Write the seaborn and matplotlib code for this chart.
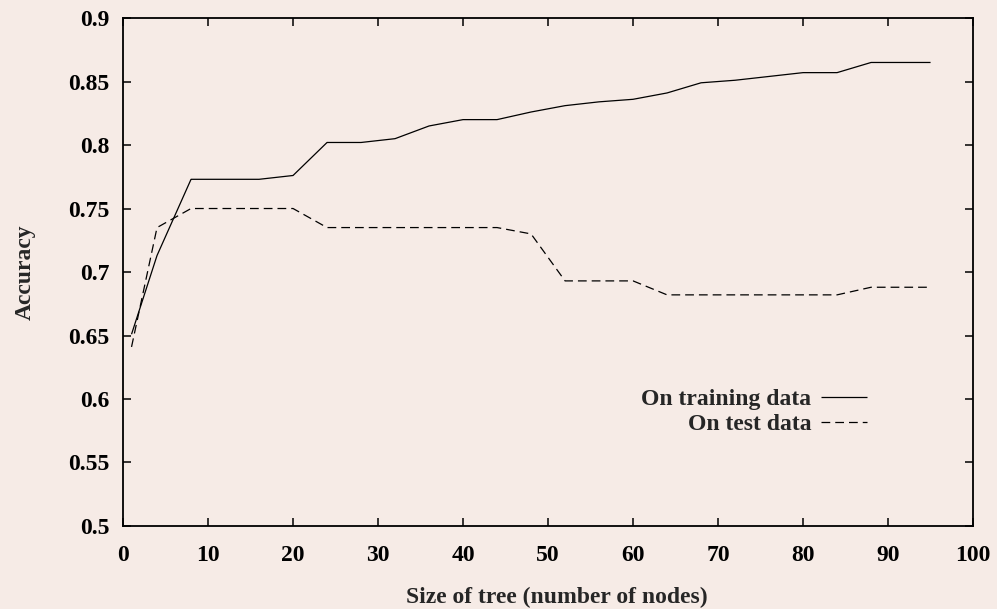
import pandas as pd
import seaborn as sns
import matplotlib.pyplot as plt

# Tamaño del arbol (nodos) y precision
nodos = [1, 4, 8, 12, 16, 20, 24, 28, 32, 36, 40, 44, 48, 52, 56, 60, 64, 68, 72, 76, 80, 84, 88, 92, 95]
acc_train = [0.651, 0.713, 0.773, 0.773, 0.773, 0.776, 0.802, 0.802, 0.805, 0.815, 0.820, 0.820,
             0.826, 0.831, 0.834, 0.836, 0.841, 0.849, 0.851, 0.854, 0.857, 0.857, 0.865, 0.865, 0.865]
acc_test = [0.641, 0.735, 0.750, 0.750, 0.750, 0.750, 0.735, 0.735, 0.735, 0.735, 0.735, 0.735,
            0.730, 0.693, 0.693, 0.693, 0.682, 0.682, 0.682, 0.682, 0.682, 0.682, 0.688, 0.688, 0.688]
etiquetas = ['On training data', 'On test data']

df = pd.DataFrame({
    'nodos': nodos * 2,
    'acc': acc_train + acc_test,
    'serie': [etiquetas[0]] * len(nodos) + [etiquetas[1]] * len(nodos),
})

sns.set_style('ticks')
plt.rcParams['font.family'] = ['Liberation Serif', 'DejaVu Serif']
plt.rcParams['font.weight'] = 'bold'

fondo = '#f6ebe6'
tam = 17
fig = plt.figure(figsize=(9.97, 6.09), dpi=100, facecolor=fondo)
ax = fig.add_axes([0.1234, 0.1363, 0.8526, 0.8341])
ax.set_facecolor(fondo)

sns.lineplot(data=df, x='nodos', y='acc', hue='serie', style='serie',
             palette=['black', 'black'], dashes=[(1, 0), (7, 4)],
             linewidth=0.9, ax=ax, legend=False)

ax.set_xlim(0, 100)
ax.set_ylim(0.5, 0.9)
ax.set_xticks(range(0, 101, 10))
ax.set_yticks([0.5, 0.55, 0.6, 0.65, 0.7, 0.75, 0.8, 0.85, 0.9])
ax.set_yticklabels(['0.5', '0.55', '0.6', '0.65', '0.7', '0.75', '0.8', '0.85', '0.9'])

for lado in ['top', 'right', 'bottom', 'left']:
    ax.spines[lado].set_visible(True)
    ax.spines[lado].set_linewidth(1.3)
    ax.spines[lado].set_color('black')
ax.tick_params(direction='in', length=6, width=1.1, top=True, right=True,
               labelsize=tam, colors='black')
ax.tick_params(axis='x', pad=14)
ax.tick_params(axis='y', pad=10)

ax.set_xlabel('Size of tree (number of nodes)', fontsize=tam, fontweight='bold')
ax.set_ylabel('Accuracy', fontsize=tam, fontweight='bold')
ax.xaxis.set_label_coords(0.5106, -0.12)
ax.yaxis.set_label_coords(-0.1025, 0.5)

lineas = ax.get_lines()
ax.legend(lineas[:2], etiquetas, frameon=False, markerfirst=False,
          prop={'size': tam, 'weight': 'bold'},
          loc='upper right', bbox_to_anchor=(0.875, 0.27), borderaxespad=0,
          borderpad=0, handlelength=1.95, handletextpad=0.4, labelspacing=0.15)

plt.savefig('out.png', dpi=100, facecolor=fondo)
